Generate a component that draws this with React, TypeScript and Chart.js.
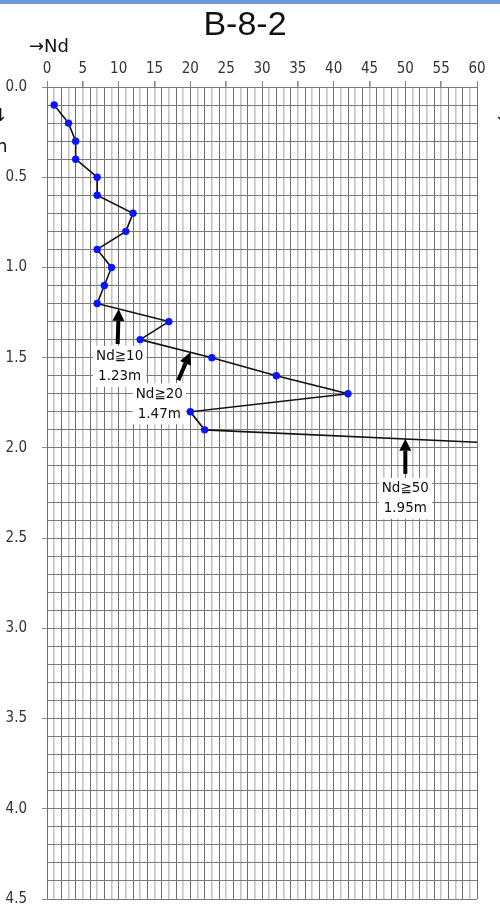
import { useEffect, useRef } from 'react';
import { Chart, registerables } from 'chart.js';

Chart.register(...registerables);

// ---- data ----
const titleText = 'B-8-2';
const axisText = '→Nd';
const ndValues = [1, 3, 4, 4, 7, 7, 12, 11, 7, 9, 8, 7, 17, 13, 23, 32, 42, 20, 22, 77];
const depthValues = [0.1, 0.2, 0.3, 0.4, 0.5, 0.6, 0.7, 0.8, 0.9, 1.0, 1.1, 1.2, 1.3, 1.4, 1.5, 1.6, 1.7, 1.8, 1.9, 2.0];
const markNd = [10, 20, 50];
const markDepth = [1.23, 1.47, 1.95];
const markLine1 = ['Nd≧10', 'Nd≧20', 'Nd≧50'];
const markLine2 = ['1.23m', '1.47m', '1.95m'];
const ndMin = 0;
const ndMax = 60;
const depthMin = 0;
const depthMax = 4.5;

// ---- layout (pixels) ----
const arrowTail = [[-1, 35], [-12, 28], [0, 35]];
const labelOffset = [[1, 48], [-31, 42], [0, 50]];

const narrow = '"DejaVu Sans Condensed", "Liberation Sans Narrow", "DejaVu Sans", sans-serif';

const stretchPlugin = {
  id: 'stretch',
  beforeDraw(chart: any) {
    try {
      chart.ctx.fontStretch = 'condensed';
    } catch (e) {}
  },
  afterDatasetsDraw(chart: any) {
    try {
      chart.ctx.fontStretch = 'normal';
    } catch (e) {}
  },
};

const overlayPlugin = {
  id: 'overlay',
  afterDraw(chart: any) {
    const ctx = chart.ctx;
    const xs = chart.scales.x;
    const ys = chart.scales.y;
    ctx.save();
    try {
      ctx.fontStretch = 'normal';
    } catch (e) {}
    // top bar
    ctx.fillStyle = '#6b9bd3';
    ctx.fillRect(0, 0, chart.width, 4);
    // title
    ctx.fillStyle = '#111';
    ctx.font = '34px "Liberation Sans", Arial, sans-serif';
    ctx.textAlign = 'center';
    ctx.textBaseline = 'alphabetic';
    ctx.fillText(titleText, 245, 35);
    // axis label
    ctx.font = '18px "DejaVu Sans", sans-serif';
    ctx.textAlign = 'left';
    ctx.fillText(axisText, 29, 52);
    // cut-off side labels
    ctx.fillText('↓', -7, 121);
    ctx.fillText('m', -10, 152);
    ctx.fillText('↓', 494, 121);

    // arrows + labels
    for (let i = 0; i < markNd.length; i++) {
      const tx = xs.getPixelForValue(markNd[i]);
      const ty = ys.getPixelForValue(markDepth[i]);
      const ex = tx + arrowTail[i][0];
      const ey = ty + arrowTail[i][1];
      const ang = Math.atan2(ty - ey, tx - ex);
      const headLen = 12;
      const headW = 6;
      const bx = tx - headLen * Math.cos(ang);
      const by = ty - headLen * Math.sin(ang);
      ctx.strokeStyle = '#000';
      ctx.lineWidth = 4;
      ctx.beginPath();
      ctx.moveTo(ex, ey);
      ctx.lineTo(bx, by);
      ctx.stroke();
      ctx.fillStyle = '#000';
      ctx.beginPath();
      ctx.moveTo(tx, ty);
      ctx.lineTo(bx + headW * Math.sin(ang), by - headW * Math.cos(ang));
      ctx.lineTo(bx - headW * Math.sin(ang), by + headW * Math.cos(ang));
      ctx.closePath();
      ctx.fill();

      const cx = tx + labelOffset[i][0];
      const cy = ty + labelOffset[i][1];
      ctx.font = '13.5px "DejaVu Sans", Verdana, sans-serif';
      const w = Math.max(ctx.measureText(markLine1[i]).width, ctx.measureText(markLine2[i]).width);
      ctx.fillStyle = '#fff';
      ctx.fillRect(cx - w / 2 - 3, cy - 11, w + 6, 41);
      ctx.fillStyle = '#111';
      ctx.textAlign = 'center';
      ctx.textBaseline = 'middle';
      ctx.fillText(markLine1[i], cx, cy);
      ctx.fillText(markLine2[i], cx, cy + 20);
    }
    ctx.restore();
  },
};

export default function App() {
  const ref = useRef<HTMLCanvasElement | null>(null);
  useEffect(() => {
    if (!ref.current) return;
    const chart = new Chart(ref.current, {
      type: 'scatter',
      data: {
        datasets: [
          {
            data: ndValues.map((x, i) => ({ x, y: depthValues[i] })),
            showLine: true,
            borderColor: '#111',
            borderWidth: 1.6,
            pointBackgroundColor: '#0a14ff',
            pointBorderColor: '#0a14ff',
            pointBorderWidth: 0,
            pointRadius: 3.7,
          },
        ],
      },
      options: {
        responsive: false,
        animation: false,
        devicePixelRatio: 1,
        layout: { padding: { top: 0, left: 0, right: 23, bottom: 5 } },
        plugins: { legend: { display: false }, tooltip: { enabled: false } },
        scales: {
          x: {
            type: 'linear',
            position: 'top',
            min: ndMin,
            max: ndMax,
            afterFit: (s: any) => {
              s.height = 87;
            },
            ticks: {
              stepSize: 1,
              autoSkip: false,
              maxRotation: 0,
              padding: 3,
              color: '#333',
              font: { size: 15, family: narrow },
              callback: (v: any) => (Math.round(v) % 5 === 0 ? String(Math.round(v)) : ''),
            },
            grid: {
              color: (c: any) => (Math.round(c.tick?.value ?? 0) % 2 === 0 ? '#6e6e6e' : '#c4c4c4'),
              lineWidth: (c: any) => (Math.round(c.tick?.value ?? 0) % 2 === 0 ? 1 : 1.6),
              tickLength: 6,
              tickColor: (c: any) => (Math.round(c.tick?.value ?? 1) % 5 === 0 ? '#888' : 'rgba(0,0,0,0)'),
            },
            border: { display: false },
          },
          y: {
            type: 'linear',
            reverse: true,
            min: depthMin,
            max: depthMax,
            afterFit: (s: any) => {
              s.width = 47;
            },
            ticks: {
              stepSize: 0.1,
              autoSkip: false,
              padding: 15,
              color: '#333',
              font: { size: 15, family: narrow },
              callback: (v: any) => (Math.round(v * 10) % 5 === 0 ? Number(v).toFixed(1) : ''),
            },
            grid: {
              color: '#7a7a7a',
              lineWidth: 1,
              tickLength: 5,
              tickColor: (c: any) => (Math.round((c.tick?.value ?? 0.1) * 10) % 5 === 0 ? '#888' : 'rgba(0,0,0,0)'),
            },
            border: { display: false },
          },
        },
      },
      plugins: [stretchPlugin, overlayPlugin],
    });
    return () => chart.destroy();
  }, []);
  return (
    <div style={{ position: 'absolute', left: 0, top: 0, width: 500, height: 923, background: '#fff' }}>
      <canvas ref={ref} width={500} height={923} style={{ display: 'block' }} />
    </div>
  );
}
